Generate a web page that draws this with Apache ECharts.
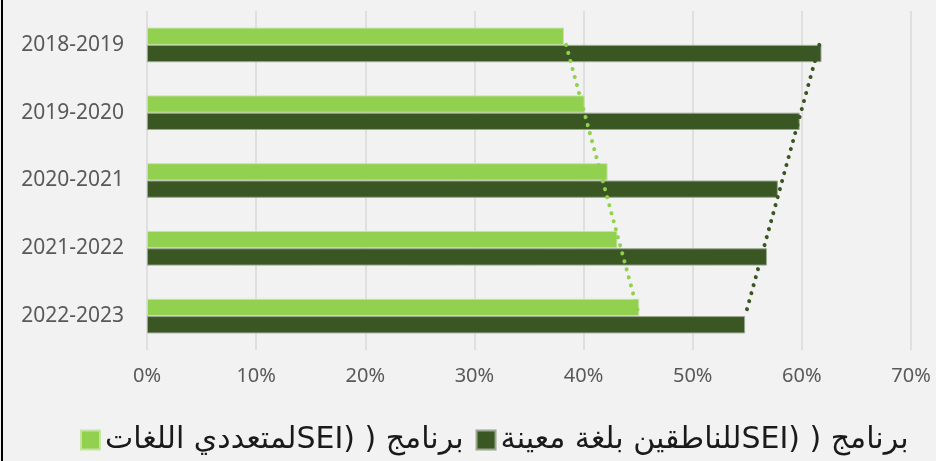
<!DOCTYPE html>
<html>
<head>
<meta charset="utf-8">
<script src="https://cdn.jsdelivr.net/npm/echarts@6/dist/echarts.min.js"></script>
<style>
    html, body { margin: 0; padding: 0; background: #f2f2f2; }
    #chart { width: 936px; height: 461px; }
</style>
</head>
<body>
<div id="chart"></div>
<script>
// 年度
var years = ['2018-2019', '2019-2020', '2020-2021', '2021-2022', '2022-2023'];
// 百分比数据
var multiLang = [38.2, 40.1, 42.2, 43.1, 45.1];
var singleLang = [61.8, 59.8, 57.8, 56.8, 54.8];
// 趋势线 (首尾值, 从图上读出)
var multiTrend = [38.4, null, null, null, 45.1];
var singleTrend = [61.6, null, null, null, 54.8];
var xTicks = [0, 10, 20, 30, 40, 50, 60, 70];
// 图例文字 (RTL)
var multiName = '\u202Bبرنامج ( (SEIلمتعددي اللغات\u202C';
var singleName = '\u202Bبرنامج ( (SEIللناطقين بلغة معينة\u202C';

var lightGreen = '#92d050';
var darkGreen = '#3a5723';

var chart = echarts.init(document.getElementById('chart'));
var option = {
    backgroundColor: '#f2f2f2',
    animation: false,
    grid: {
        left: 147,
        right: 25,
        top: 11,
        bottom: 111
    },
    legend: {
        data: [multiName, singleName],
        left: 75,
        bottom: 1,
        itemWidth: 19,
        itemHeight: 19,
        itemGap: 12,
        icon: 'rect',
        textStyle: {
            fontFamily: 'DejaVu Sans',
            fontSize: 30,
            color: '#1a1a1a'
        }
    },
    xAxis: {
        type: 'value',
        min: xTicks[0],
        max: xTicks[xTicks.length - 1],
        interval: 10,
        axisLine: { show: false },
        axisTick: { show: false },
        splitLine: { lineStyle: { color: '#d9d9d9', width: 1.5 } },
        axisLabel: {
            margin: 16,
            formatter: '{value}%',
            fontFamily: 'Noto Sans',
            fontSize: 20,
            color: '#595959'
        }
    },
    yAxis: {
        type: 'category',
        inverse: true,
        data: years,
        axisLine: { show: false },
        axisTick: { show: false },
        axisLabel: {
            margin: 23,
            fontFamily: 'Noto Sans',
            fontSize: 21,
            color: '#595959'
        }
    },
    series: [
        {
            name: multiName,
            type: 'bar',
            data: multiLang,
            barGap: '0%',
            barCategoryGap: '49%',
            itemStyle: { color: lightGreen, borderColor: '#c6e3a4', borderWidth: 1 }
        },
        {
            name: singleName,
            type: 'bar',
            data: singleLang,
            itemStyle: { color: darkGreen, borderColor: '#9aa592', borderWidth: 1 }
        },
        {
            type: 'line',
            data: multiTrend,
            connectNulls: true,
            symbol: 'none',
            z: 5,
            lineStyle: { color: lightGreen, width: 4, type: [0.1, 8.2], cap: 'round' }
        },
        {
            type: 'line',
            data: singleTrend,
            connectNulls: true,
            symbol: 'none',
            z: 5,
            lineStyle: { color: darkGreen, width: 4, type: [0.1, 8.2], cap: 'round' }
        }
    ],
    graphic: [
        {
            type: 'line',
            shape: { x1: 2, y1: 0, x2: 2, y2: 461 },
            style: { stroke: '#000', lineWidth: 2 }
        }
    ]
};
chart.setOption(option);
</script>
</body>
</html>
